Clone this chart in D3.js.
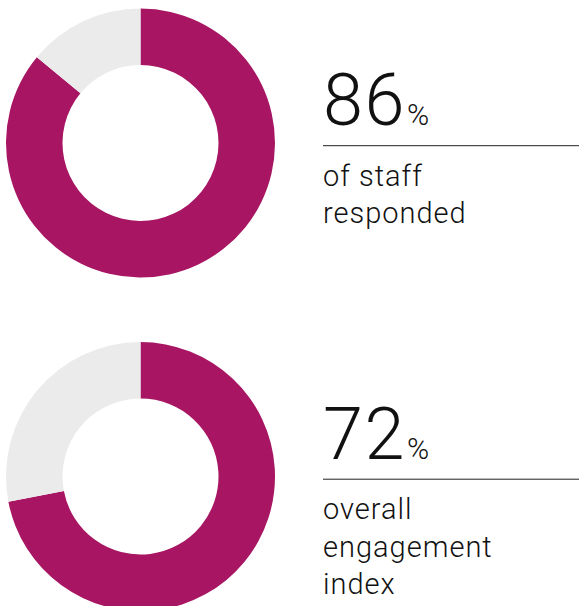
<!DOCTYPE html>
<html><head><meta charset="utf-8">
<script src="https://cdn.jsdelivr.net/npm/d3@7"></script>
<style>html,body{margin:0;padding:0;background:#fff;overflow:hidden}</style>
</head><body>
<svg id="chart" width="579" height="606"></svg>
<script>
const metrics = ["Response rate", "Engagement index"];
const percentValues = [86, 72];
const labelLines = [["of staff", "responded"], ["overall", "engagement", "index"]];
const sliceColors = ["#A71563", "#EBEBEB"];

const svg = d3.select("#chart");
const W = 579, H = 606;
const rowScale = d3.scalePoint().domain(metrics).range([143, 476.5]);
const outerR = 134.5, innerR = 78;
const cx = 140.5;
const pie = d3.pie().sort(null).value(d => d);
const arc = d3.arc().innerRadius(innerR).outerRadius(outerR);
const color = d3.scaleOrdinal().domain([0, 1]).range(sliceColors);

metrics.forEach((m, i) => {
  const cy = rowScale(m);
  const g = svg.append("g").attr("transform", `translate(${cx},${cy})`);
  const v = percentValues[i];
  g.selectAll("path").data(pie([v, 100 - v])).join("path")
    .attr("d", arc).attr("fill", (d, j) => color(j));

  const tx = 323;
  const t = svg.append("g");
  const big = t.append("text").attr("x", tx).attr("y", cy - 18)
    .attr("font-family", "Roboto, 'Helvetica Neue', Arial, sans-serif")
    .attr("font-weight", 300).attr("fill", "#111");
  big.append("tspan").attr("font-size", 72).attr("letter-spacing", 1.5).text(v);
  big.append("tspan").attr("font-size", 30).attr("dx", 1).text("%");

  t.append("line").attr("x1", tx).attr("x2", W).attr("y1", cy + 2.7).attr("y2", cy + 2.7)
    .attr("stroke", "#222").attr("stroke-width", 1);

  labelLines[i].forEach((s, k) => {
    t.append("text").attr("x", tx).attr("y", cy + 42.5 + k * 37.5)
      .attr("font-family", "Roboto, 'Helvetica Neue', Arial, sans-serif")
      .attr("font-weight", 300).attr("letter-spacing", 1)
      .attr("font-size", 29).attr("fill", "#111").text(s);
  });
});
</script>
</body></html>
